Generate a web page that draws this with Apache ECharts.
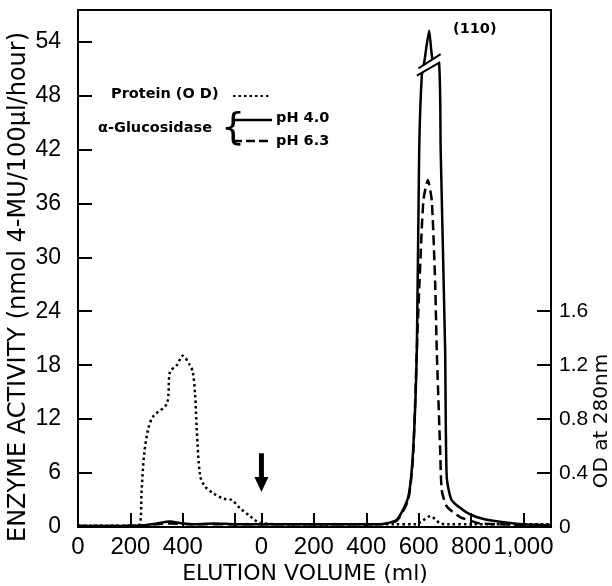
<!DOCTYPE html>
<html><head><meta charset="utf-8">
<script src="https://cdn.jsdelivr.net/npm/echarts@6/dist/echarts.min.js"></script>
<style>html,body{margin:0;padding:0;background:#fff}#c{width:612px;height:586px}</style>
</head><body><div id="c"></div>
<script>
// x positions: continuous elution scale; second run starts at 700 (arrow)
const xTickValues = [200, 400, 600, 700, 900, 1100, 1300, 1500, 1700];
const xLabelValues = [0, 200, 400, 700, 900, 1100, 1300, 1500, 1700];
const xLabelTexts = ['0', '200', '400', '0', '200', '400', '600', '800', '1,000'];
const leftTickValues = [6, 12, 18, 24, 30, 36, 42, 48, 54];
const leftLabelValues = [0, 6, 12, 18, 24, 30, 36, 42, 48, 54];
const rightTickValues = [0.4, 0.8, 1.2, 1.6];
const rightLabelValues = [0, 0.4, 0.8, 1.2, 1.6];

const proteinX = [0, 100, 200, 234, 243, 252, 268, 287, 339, 351, 377, 400, 427, 438, 447, 453, 466, 485, 516, 555, 587, 618, 657, 695, 800, 1000, 1200, 1290, 1310, 1344, 1380, 1407, 1500, 1700, 1805];
const proteinOD = [0.01, 0.01, 0.01, 0.015, 0.28, 0.53, 0.73, 0.82, 0.915, 1.15, 1.20, 1.27, 1.20, 1.15, 0.98, 0.73, 0.38, 0.30, 0.25, 0.21, 0.20, 0.14, 0.08, 0.03, 0.02, 0.02, 0.02, 0.02, 0.04, 0.08, 0.03, 0.02, 0.02, 0.02, 0.02];

const ph40X = [0, 150, 250, 300, 351, 400, 450, 520, 600, 700, 800, 1000, 1150, 1216, 1260, 1279, 1293, 1302, 1312, 1322, 1340, 1353, 1378, 1384, 1401, 1407, 1426, 1484, 1534, 1584, 1698, 1805];
const ph40V = [0.1, 0.1, 0.2, 0.4, 0.6, 0.4, 0.3, 0.4, 0.3, 0.3, 0.3, 0.3, 0.3, 0.8, 3.3, 8.6, 19.7, 41.9, 50.2, 51.8, 55.2, 52.0, 51.5, 41.9, 19.7, 5.6, 3.0, 1.6, 1.0, 0.7, 0.3, 0.2];

const ph63X = [0, 150, 250, 351, 450, 600, 700, 1000, 1150, 1216, 1260, 1279, 1293, 1303, 1318, 1335, 1350, 1363, 1369, 1382, 1388, 1407, 1458, 1508, 1534, 1600, 1805];
const ph63V = [0.1, 0.1, 0.2, 0.4, 0.3, 0.3, 0.3, 0.3, 0.3, 0.7, 3.0, 8.0, 19.7, 27.1, 36.3, 38.6, 36.3, 27.1, 19.7, 8.6, 4.1, 2.3, 1.1, 0.6, 0.4, 0.3, 0.2];

// axis-break mark on the off-scale peak (110), in data coords
const breakLower = [[1293, 50.2], [1382, 51.7]];
const breakUpper = [[1299, 51.0], [1384, 52.6]];
const arrowAt = [700, 8.2, 3.9];

const FONT = 'DejaVu Sans';
const NUMFONT = 'Liberation Sans';
const zip = (a, b) => a.map((v, i) => [v, b[i]]);
const chart = echarts.init(document.getElementById('c'));
chart.setOption({
  animation: false,
  backgroundColor: '#fff',
  grid: { left: 78, right: 61, top: 10, bottom: 59, show: true, borderColor: '#000', borderWidth: 2 },
  xAxis: {
    type: 'value', min: 0, max: 1805,
    axisLine: { lineStyle: { color: '#000', width: 2 } },
    axisTick: { inside: true, length: 14, customValues: xTickValues, lineStyle: { color: '#000', width: 2 } },
    axisLabel: { customValues: xLabelValues, color: '#000', fontFamily: NUMFONT, fontSize: 24, margin: 8,
      formatter: v => xLabelTexts[xLabelValues.indexOf(v)] },
    splitLine: { show: false }
  },
  yAxis: [{
    type: 'value', min: 0, max: 57.5,
    axisLine: { show: true, lineStyle: { color: '#000', width: 2 } },
    axisTick: { inside: true, length: 14, customValues: leftTickValues, lineStyle: { color: '#000', width: 2 } },
    axisLabel: { customValues: leftLabelValues, color: '#000', fontFamily: NUMFONT, fontSize: 23, margin: 17 },
    splitLine: { show: false }
  }, {
    type: 'value', min: 0, max: 57.5 / 15, position: 'right',
    axisLine: { show: true, lineStyle: { color: '#000', width: 2 } },
    axisTick: { inside: true, length: 14, customValues: rightTickValues, lineStyle: { color: '#000', width: 2 } },
    axisLabel: { customValues: rightLabelValues, color: '#000', fontFamily: NUMFONT, fontSize: 21, margin: 8 },
    splitLine: { show: false }
  }],
  series: [
    { type: 'line', name: 'Protein (OD)', yAxisIndex: 1, data: zip(proteinX, proteinOD), showSymbol: false, smooth: 0.3,
      lineStyle: { color: '#000', width: 2.5, type: [2.5, 3] }, z: 3 },
    { type: 'line', name: 'pH 4.0', data: zip(ph40X, ph40V), showSymbol: false, smooth: 0.2,
      lineStyle: { color: '#000', width: 2.5 }, z: 4 },
    { type: 'line', name: 'pH 6.3', data: zip(ph63X, ph63V), showSymbol: false, smooth: 0.2,
      lineStyle: { color: '#000', width: 2.5, type: [10, 5] }, z: 5 }
  ]
});

function px(p) { return chart.convertToPixel({ xAxisIndex: 0, yAxisIndex: 0 }, p); }
const l0 = px(breakLower[0]), l1 = px(breakLower[1]), u0 = px(breakUpper[0]), u1 = px(breakUpper[1]);
const a0 = px([arrowAt[0], arrowAt[1]]), a1 = px([arrowAt[0], arrowAt[2]]);
const ax = a0[0];
const T = { fill: '#000', fontFamily: FONT, fontWeight: 'bold', fontSize: 14.5 };
chart.setOption({
  graphic: [
    { type: 'polygon', z: 100, shape: { points: [l0, l1, u1, u0] }, style: { fill: '#fff', stroke: null } },
    { type: 'line', z: 101, shape: { x1: l0[0], y1: l0[1], x2: l1[0], y2: l1[1] }, style: { stroke: '#000', lineWidth: 2 } },
    { type: 'line', z: 101, shape: { x1: u0[0], y1: u0[1], x2: u1[0], y2: u1[1] }, style: { stroke: '#000', lineWidth: 2 } },
    // arrow
    { type: 'rect', z: 101, shape: { x: ax - 2.5, y: a0[1], width: 5, height: (a1[1] - a0[1]) - 12 }, style: { fill: '#000' } },
    { type: 'polygon', z: 101, shape: { points: [[ax - 7, a1[1] - 15], [ax + 7, a1[1] - 15], [ax, a1[1]]] }, style: { fill: '#000' } },
    // labels
    { type: 'text', z: 101, left: 453, top: 22, style: Object.assign({ text: '(110)' }, T) },
    { type: 'text', z: 101, left: 111, top: 87, style: Object.assign({ text: 'Protein (O D)' }, T) },
    { type: 'line', z: 101, shape: { x1: 233, y1: 96, x2: 270, y2: 96 }, style: { stroke: '#000', lineWidth: 2, lineDash: [2.5, 3] } },
    { type: 'text', z: 101, left: 98, top: 121, style: Object.assign({ text: '\u03b1-Glucosidase' }, T) },
    { type: 'text', z: 101, left: 221, top: 110, style: { text: '{', fill: '#000', fontFamily: FONT, fontSize: 38, fontWeight: 'normal' } },
    { type: 'line', z: 101, shape: { x1: 233, y1: 120, x2: 272, y2: 120 }, style: { stroke: '#000', lineWidth: 2.5 } },
    { type: 'line', z: 101, shape: { x1: 233, y1: 141, x2: 272, y2: 141 }, style: { stroke: '#000', lineWidth: 2.5, lineDash: [9, 4] } },
    { type: 'text', z: 101, left: 276, top: 111, style: Object.assign({ text: 'pH 4.0' }, T) },
    { type: 'text', z: 101, left: 276, top: 134, style: Object.assign({ text: 'pH 6.3' }, T) },
    // axis titles
    { type: 'text', z: 101, x: 19, y: 287, rotation: Math.PI / 2,
      style: { text: 'ENZYME ACTIVITY (nmol 4-MU/100\u00b5l/hour)', fill: '#000', fontFamily: FONT, fontSize: 24, align: 'center', verticalAlign: 'middle' } },
    { type: 'text', z: 101, x: 305, y: 574,
      style: { text: 'ELUTION VOLUME (ml)', fill: '#000', fontFamily: FONT, fontSize: 22, align: 'center', verticalAlign: 'middle' } },
    { type: 'text', z: 101, x: 602, y: 421, rotation: Math.PI / 2,
      style: { text: 'OD at 280nm', fill: '#000', fontFamily: FONT, fontSize: 20, align: 'center', verticalAlign: 'middle' } }
  ]
});
</script></body></html>
